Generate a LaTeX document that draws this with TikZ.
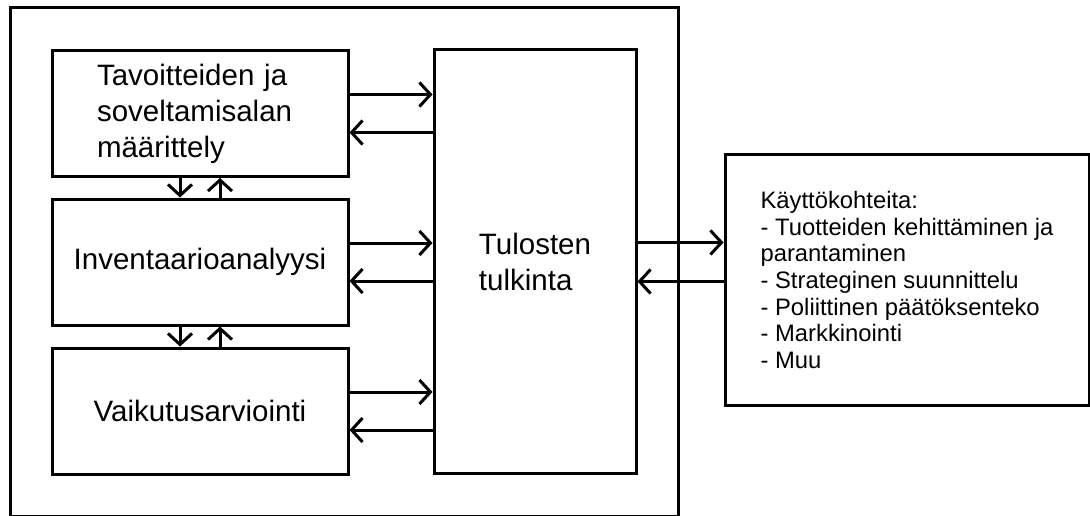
\documentclass[tikz,border=0pt]{standalone}
\usepackage{fontspec}
\setmainfont{Liberation Sans}
\usetikzlibrary{arrows.meta,positioning}

\begin{document}
\begin{tikzpicture}[x=1pt, y=-1pt, line width=3pt,
    >={Straight Barb[length=11pt,width=24pt]},
    box/.style={draw, inner sep=0pt, align=left, minimum width=296pt, minimum height=126pt,
      font=\fontsize{29.5}{36}\selectfont}]
   \useasboundingbox (0,0) rectangle (1090,516);
   \node[draw, minimum width=668pt, minimum height=508pt] (kehys) at (344,262) {};
   \node[box, inner xsep=45pt, text width=206pt] (tav) at (200,113.5) {Tavoitteiden ja\\soveltamisalan\\määrittely};
   \node[box] (inv) at (200,262) {Inventaarioanalyysi};
   \node[box] (vai) at (200,411) {Vaikutusarviointi};
   \node[box, minimum width=202pt, minimum height=423pt] (tul) at (535,261.5) {Tulosten\\tulkinta};
   \node[draw, inner sep=0pt, align=left, minimum width=364pt, minimum height=250pt,
     font=\fontsize{23.8}{26.7}\selectfont] (kay) at (907,280)
     {Käyttökohteita:\\- Tuotteiden kehittäminen ja\\parantaminen\\- Strateginen suunnittelu\\- Poliittinen päätöksenteko\\- Markkinointi\\- Muu};

  \foreach \b in {tav,inv,vai}{
    \path[->]
      ([yshift=19pt]\b.east) edge ([yshift=19pt]\b.east -| tul.west)
      ([yshift=-19pt]\b.east -| tul.west) edge ([yshift=-19pt]\b.east);
  }
  \path[->]
    ([xshift=-20pt]tav.south) edge ([xshift=-20pt]inv.north)
    ([xshift=20pt]inv.north) edge ([xshift=20pt]tav.south)
    ([xshift=-20pt]inv.south) edge ([xshift=-20pt]vai.north)
    ([xshift=20pt]vai.north) edge ([xshift=20pt]inv.south)
    ([yshift=19pt]tul.east) edge ([yshift=19pt]tul.east -| kay.west)
    ([yshift=-20pt]tul.east -| kay.west) edge ([yshift=-20pt]tul.east);
\end{tikzpicture}
\end{document}
